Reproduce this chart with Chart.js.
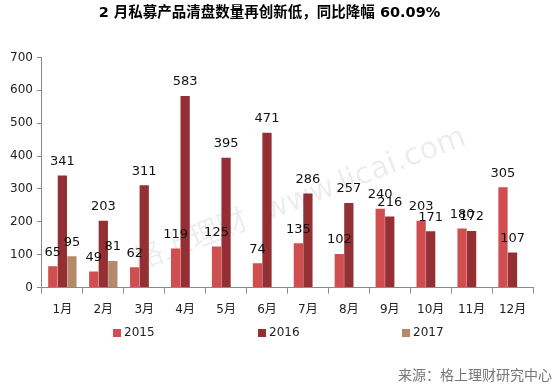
<!DOCTYPE html>
<html>
<head>
<meta charset="utf-8">
<script src="https://cdn.jsdelivr.net/npm/chart.js@4.4.0/dist/chart.umd.min.js"></script>
<style>
  html, body { margin: 0; padding: 0; background: #fff; }
  #wrap { position: relative; width: 556px; height: 387px; }
  #src { position: absolute; right: 4px; bottom: 3px; font: 14px "Noto Sans CJK SC", "DejaVu Sans", sans-serif; color: #777; }
</style>
</head>
<body>
<div id="wrap">
  <canvas id="c" width="556" height="387"></canvas>
  <div id="src">来源：格上理财研究中心</div>
</div>
<script>
const months = ['1月', '2月', '3月', '4月', '5月', '6月', '7月', '8月', '9月', '10月', '11月', '12月'];
const y2015 = [65, 49, 62, 119, 125, 74, 135, 102, 240, 203, 180, 305];
const y2016 = [341, 203, 311, 583, 395, 471, 286, 257, 216, 171, 172, 107];
const y2017 = [95, 81, null, null, null, null, null, null, null, null, null, null];

const FONT = '"DejaVu Sans", "Noto Sans CJK SC", sans-serif';

// faint watermark behind the bars
const watermark = {
  id: 'watermark',
  beforeDatasetsDraw(chart) {
    const ctx = chart.ctx;
    ctx.save();
    ctx.translate(300, 200);
    ctx.rotate(-21 * Math.PI / 180);
    ctx.font = '30px ' + FONT;
    ctx.fillStyle = 'rgba(0,0,0,0.07)';
    ctx.textAlign = 'center';
    ctx.textBaseline = 'middle';
    ctx.fillText('格上理财  www.licai.com', 0, 0);
    ctx.restore();
  }
};

// value labels above each bar
const valueLabels = {
  id: 'valueLabels',
  afterDatasetsDraw(chart) {
    const ctx = chart.ctx;
    ctx.save();
    ctx.font = '13px ' + FONT;
    ctx.fillStyle = '#111';
    ctx.textAlign = 'center';
    ctx.textBaseline = 'middle';
    chart.data.datasets.forEach((ds, i) => {
      chart.getDatasetMeta(i).data.forEach((bar, j) => {
        const v = ds.data[j];
        if (v == null) return;
        ctx.fillText(String(v), bar.x, bar.y - 14);
      });
    });
    ctx.restore();
  }
};

// spread-out legend row under the axis (built-in one adds its padding vertically too)
const wideLegend = {
  id: 'wideLegend',
  afterDraw(chart) {
    const ctx = chart.ctx;
    const xs = [113, 258, 402], y = 333;
    ctx.save();
    ctx.font = '12px ' + FONT;
    ctx.textBaseline = 'middle';
    chart.data.datasets.forEach((ds, i) => {
      ctx.fillStyle = ds.backgroundColor;
      ctx.fillRect(xs[i], y - 4, 8, 8);
      ctx.fillStyle = '#222';
      ctx.fillText(ds.label, xs[i] + 11, y);
    });
    ctx.restore();
  }
};

new Chart(document.getElementById('c'), {
  type: 'bar',
  data: {
    labels: months,
    datasets: [
      { label: '2015', data: y2015, backgroundColor: '#d04e4f' },
      { label: '2016', data: y2016, backgroundColor: '#943034' },
      { label: '2017', data: y2017, backgroundColor: '#b58a6b' }
    ]
  },
  options: {
    responsive: false,
    animation: false,
    events: [],
    layout: { padding: { left: 6, right: 23, top: 5, bottom: 61 } },
    datasets: { bar: { categoryPercentage: 0.7, barPercentage: 0.97 } },
    plugins: {
      title: {
        display: true,
        text: '2 月私募产品清盘数量再创新低，同比降幅 60.09%',
        font: { family: FONT, size: 14.5, weight: 'bold' },
        color: '#000',
        padding: { top: 0, bottom: 35 }
      },
      legend: { display: false },
      tooltip: { enabled: false }
    },
    scales: {
      x: {
        grid: { drawOnChartArea: false, drawTicks: true, tickLength: 6, color: '#8a8a8a' },
        border: { color: '#8a8a8a' },
        ticks: { font: { family: FONT, size: 12 }, color: '#222', padding: 9 }
      },
      y: {
        min: 0, max: 700,
        grid: { drawOnChartArea: false, drawTicks: true, tickLength: 5, color: '#8a8a8a' },
        border: { color: '#8a8a8a' },
        ticks: { stepSize: 100, autoSkip: false, font: { family: FONT, size: 12 }, color: '#222', padding: 4 }
      }
    }
  },
  plugins: [watermark, valueLabels, wideLegend]
});
</script>
</body>
</html>
